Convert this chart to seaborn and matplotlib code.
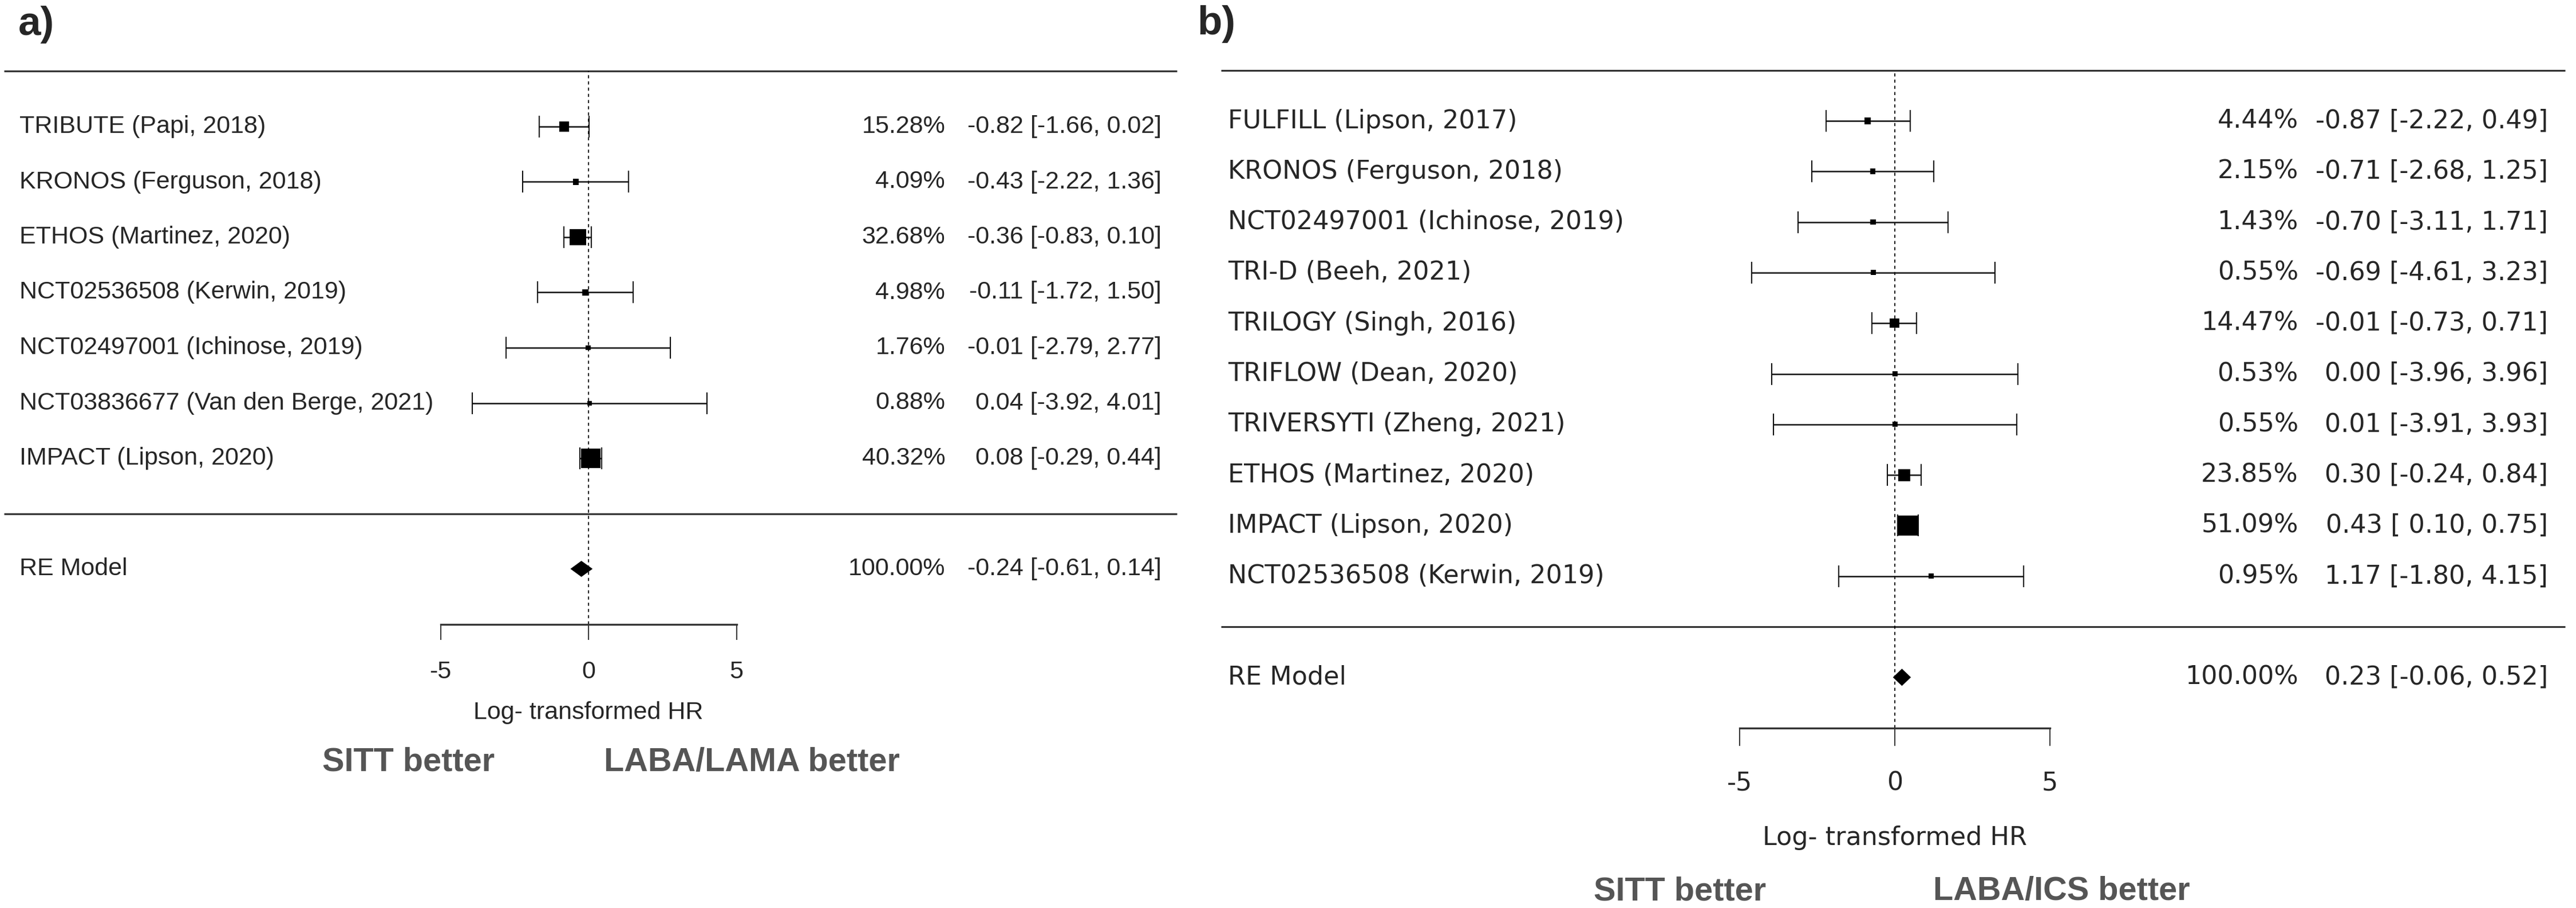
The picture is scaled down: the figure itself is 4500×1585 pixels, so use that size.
import numpy as np
import pandas as pd
import matplotlib
matplotlib.use("Agg")
import matplotlib.pyplot as plt
import seaborn as sns

# ------------------------------------------------------------------ data
a_studies = ["TRIBUTE (Papi, 2018)", "KRONOS (Ferguson, 2018)", "ETHOS (Martinez, 2020)",
             "NCT02536508 (Kerwin, 2019)", "NCT02497001 (Ichinose, 2019)",
             "NCT03836677 (Van den Berge, 2021)", "IMPACT (Lipson, 2020)"]
a_est = [-0.82, -0.43, -0.36, -0.11, -0.01, 0.04, 0.08]
a_lo = [-1.66, -2.22, -0.83, -1.72, -2.79, -3.92, -0.29]
a_hi = [0.02, 1.36, 0.10, 1.50, 2.77, 4.01, 0.44]
a_wt = [15.28, 4.09, 32.68, 4.98, 1.76, 0.88, 40.32]
a_re = [-0.24, -0.61, 0.14]          # estimate, lower, upper
a_better = ["SITT better", "LABA/LAMA better"]

b_studies = ["FULFILL (Lipson, 2017)", "KRONOS (Ferguson, 2018)", "NCT02497001 (Ichinose, 2019)",
             "TRI-D (Beeh, 2021)", "TRILOGY (Singh, 2016)", "TRIFLOW (Dean, 2020)",
             "TRIVERSYTI (Zheng, 2021)", "ETHOS (Martinez, 2020)", "IMPACT (Lipson, 2020)",
             "NCT02536508 (Kerwin, 2019)"]
b_est = [-0.87, -0.71, -0.70, -0.69, -0.01, 0.00, 0.01, 0.30, 0.43, 1.17]
b_lo = [-2.22, -2.68, -3.11, -4.61, -0.73, -3.96, -3.91, -0.24, 0.10, -1.80]
b_hi = [0.49, 1.25, 1.71, 3.23, 0.71, 3.96, 3.93, 0.84, 0.75, 4.15]
b_wt = [4.44, 2.15, 1.43, 0.55, 14.47, 0.53, 0.55, 23.85, 51.09, 0.95]
b_re = [0.23, -0.06, 0.52]
b_better = ["SITT better", "LABA/ICS better"]

re_label = "RE Model"
re_weight = 100.00
x_ticks = [-5, 0, 5]
x_label = "Log- transformed HR"
panel_tags = ["a)", "b)"]

# ------------------------------------------------------------------ style
sns.set_theme(style="white")
plt.rcParams["font.family"] = ["Liberation Sans", "DejaVu Sans"]

W, H, DPI = 4500, 1585, 100
fig = plt.figure(figsize=(W / DPI, H / DPI), dpi=DPI)
PT = 72.0 / DPI  # points per pixel

LAYOUT = {
    "a": dict(x0=0, x1=2100, zero=1028, ppu=51.7, row0=896.5, ppr=96.5,
              line=(7, 2056), fam="Liberation Sans", fs=31, lab=34, wt=1651, est=2029,
              xlab=1244, tick_len=27, tick_pad=37, better_y=1331, better_x=(563, 1055),
              sq=(8, 34), dia_h=14, tag=(32, 61)),
    "b": dict(x0=2100, x1=4500, zero=3310, ppu=54.2, row0=1094, ppr=88.3,
              line=(2133, 4481), fam="DejaVu Sans", fs=32, lab=2145, wt=4015, est=4451,
              xlab=1463, tick_len=31, tick_pad=44, better_y=1556, better_x=(2784, 3377),
              sq=(9, 35), dia_h=15, tag=(2091, 60)),
}


def fmt_ci(e, l, h, pad_lo):
    lo_s = f"{l:5.2f}" if pad_lo else f"{l:.2f}"
    return f"{e:.2f} [{lo_s}, {h:.2f}]"


def draw_panel(key, studies, est, lo, hi, wt, re, better, tag):
    L = LAYOUT[key]
    vx = lambda px: (px - L["zero"]) / L["ppu"]
    ry = lambda py: (L["row0"] - py) / L["ppr"]

    ax = fig.add_axes([L["x0"] / W, 0, (L["x1"] - L["x0"]) / W, 1])
    ax.set_facecolor("none")
    ax.set_xlim(vx(L["x0"]), vx(L["x1"]))
    ax.set_ylim(ry(H), ry(0))

    k = len(studies)
    df = pd.DataFrame(dict(study=studies, est=est, lo=lo, hi=hi, wt=wt))
    df["row"] = np.arange(k, 0, -1)
    wmin, wmax = df["wt"].min(), df["wt"].max()
    side_px = L["sq"][0] + (df["wt"] - wmin) / (wmax - wmin) * (L["sq"][1] - L["sq"][0])
    df["s"] = (side_px * PT) ** 2

    fam, fs = L["fam"], L["fs"]
    xl, xr = vx(L["line"][0]), vx(L["line"][1])

    # horizontal rules and reference line
    ax.hlines([k + 1, 0], xl, xr, color="#333333", lw=2.3, zorder=1)
    ax.vlines(0, -2, k + 1, color="black", lw=1.3, linestyles=(0, (3, 3)), zorder=1)

    # confidence intervals
    ax.errorbar(df["est"], df["row"], xerr=[df["est"] - df["lo"], df["hi"] - df["est"]],
                fmt="none", ecolor="#111111", elinewidth=1.8, capsize=14,
                capthick=1.5, zorder=2)
    # weighted squares
    sns.scatterplot(data=df, x="est", y="row", marker="s", s=df["s"], color="black",
                    linewidth=0, ax=ax, zorder=3, legend=False)
    ax.set_xlabel("")
    ax.set_ylabel("")
    # summary diamond
    h = L["dia_h"] / L["ppr"]
    ax.fill([re[1], re[0], re[2], re[0]], [-1, -1 + h, -1, -1 - h], color="black", lw=0, zorder=3)

    # text columns
    pad_lo = any(v < 0 for v in list(lo) + [re[1]])
    for _, r in df.iterrows():
        ax.text(vx(L["lab"]), r["row"], r["study"], ha="left", va="center", fontsize=fs, family=fam)
        ax.text(vx(L["wt"]), r["row"], f"{r['wt']:.2f}%", ha="right", va="center", fontsize=fs, family=fam)
        ax.text(vx(L["est"]), r["row"], fmt_ci(r["est"], r["lo"], r["hi"], pad_lo),
                ha="right", va="center", fontsize=fs, family=fam)
    ax.text(vx(L["lab"]), -1, re_label, ha="left", va="center", fontsize=fs, family=fam)
    ax.text(vx(L["wt"]), -1, f"{re_weight:.2f}%", ha="right", va="center", fontsize=fs, family=fam)
    ax.text(vx(L["est"]), -1, fmt_ci(re[0], re[1], re[2], pad_lo), ha="right", va="center",
            fontsize=fs, family=fam)

    # x axis as bracket
    for side in ["left", "right", "top"]:
        ax.spines[side].set_visible(False)
    sp = ax.spines["bottom"]
    sp.set_position(("data", -2))
    sp.set_bounds(x_ticks[0], x_ticks[-1])
    sp.set_color("#333333")
    sp.set_linewidth(2.4)
    ax.set_xticks(x_ticks)
    ax.set_xticklabels([str(t) for t in x_ticks], fontsize=fs, family=fam)
    ax.tick_params(axis="x", direction="out", length=L["tick_len"] * PT, width=1.4,
                   color="#333333", pad=L["tick_pad"] * PT, bottom=True)
    ax.set_yticks([])
    ax.grid(False)

    ax.text(0, ry(L["xlab"]), x_label, ha="center", va="center", fontsize=fs, family=fam)

    for txt, xp in zip(better, L["better_x"]):
        ax.text(vx(xp), ry(L["better_y"]), txt, ha="left", va="center", fontsize=41.5,
                fontweight="bold", color="#555555", family="Liberation Sans")

    fig.text(L["tag"][0] / W, 1 - L["tag"][1] / H, tag, ha="left", va="baseline",
             fontsize=51, fontweight="bold", family="Liberation Sans")
    return ax


draw_panel("a", a_studies, a_est, a_lo, a_hi, a_wt, a_re, a_better, panel_tags[0])
draw_panel("b", b_studies, b_est, b_lo, b_hi, b_wt, b_re, b_better, panel_tags[1])

fig.savefig("out.png", dpi=DPI, facecolor="white")
